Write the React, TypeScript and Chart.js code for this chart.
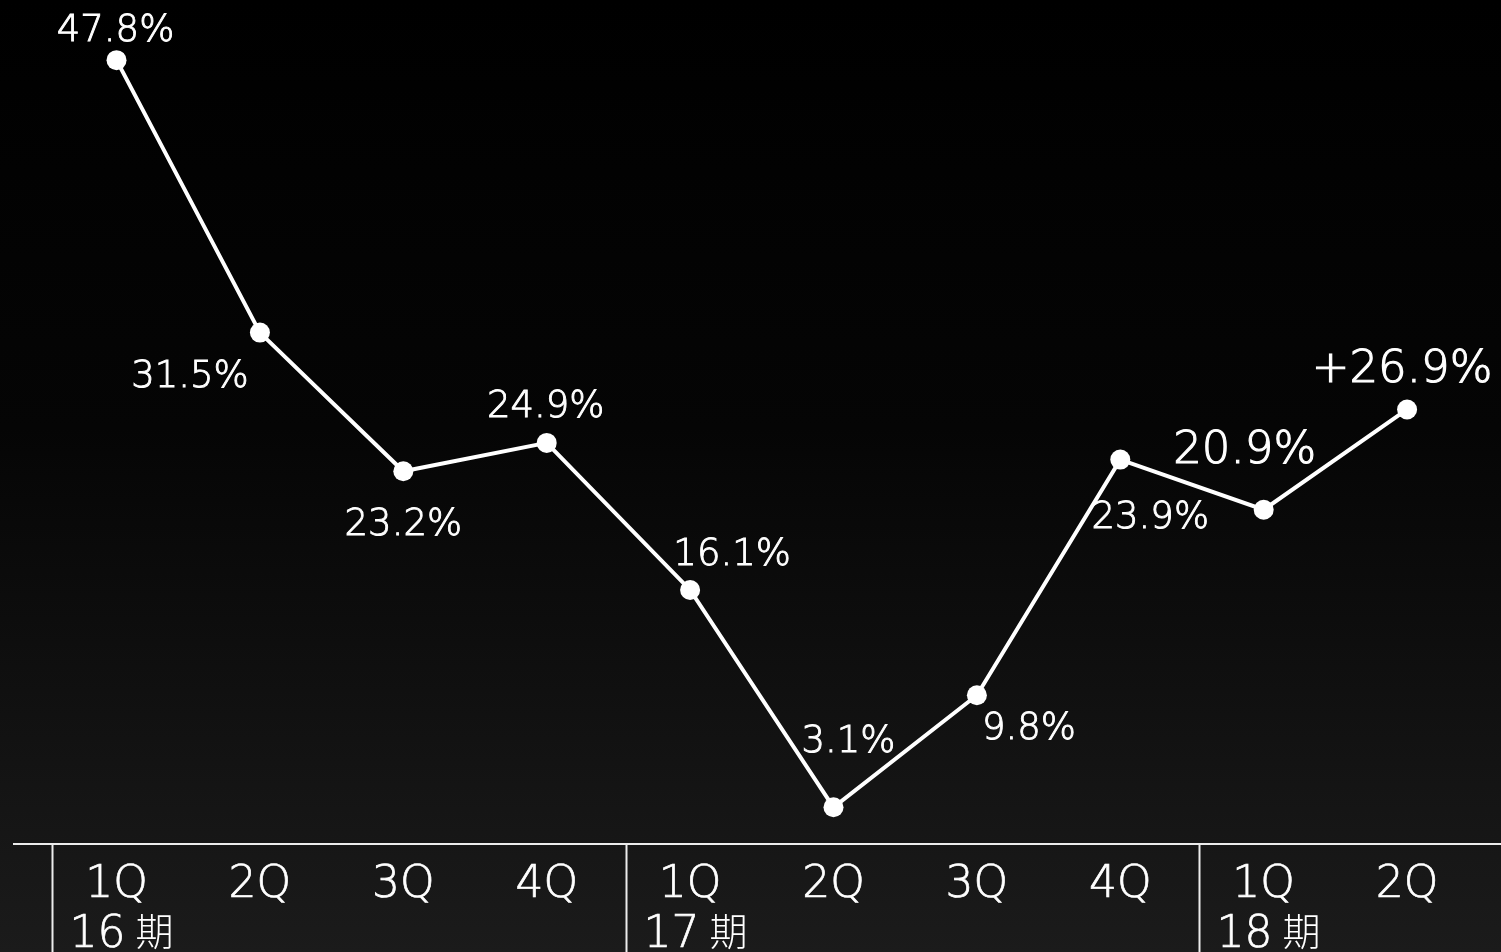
import { useEffect, useRef } from "react";
import { Chart, registerables } from "chart.js";

Chart.register(...registerables);

// Quarter ticks along the bottom axis
const quarters = ["1Q", "2Q", "3Q", "4Q", "1Q", "2Q", "3Q", "4Q", "1Q", "2Q"];
// Fiscal period groups and the quarter index each one starts at
const periods = ["16", "17", "18"];
const periodStart = [0, 4, 8];
const periodSuffix = "期";
// Year-on-year growth rate per quarter (%)
const growth = [47.8, 31.5, 23.2, 24.9, 16.1, 3.1, 9.8, 23.9, 20.9, 26.9];
// Latest quarters get a larger label
const emphasized = [8, 9];

// Label placement relative to each point: [dx, dy] to text centre / baseline
const labelOffsets: [number, number][] = [
  [-1, -19],
  [-70, 54],
  [0, 64],
  [-1, -26],
  [42, -25],
  [15, -55],
  [52, 44],
  [30, 68],
  [-19, -47],
  [-5, -27],
];

const W = 1501;
const H = 952;
const NUM_FONT = '"DejaVu Sans", "Noto Sans", sans-serif';
const CJK_FONT = '"Noto Sans CJK JP", sans-serif';
const WEIGHT = 200;

const formatLabel = (v: number, i: number) =>
  (i === growth.length - 1 ? "+" : "") + v.toFixed(1) + "%";

// thin face, slightly thickened with a hairline stroke
function drawText(ctx: CanvasRenderingContext2D, text: string, x: number, y: number, thick = 0.9) {
  ctx.fillText(text, x, y);
  ctx.lineWidth = thick;
  ctx.strokeStyle = "#ffffff";
  ctx.strokeText(text, x, y);
}

const valueLabels = {
  id: "valueLabels",
  afterDatasetsDraw(chart: Chart) {
    const ctx = chart.ctx;
    const meta = chart.getDatasetMeta(0);
    ctx.save();
    ctx.fillStyle = "#ffffff";
    ctx.textAlign = "center";
    ctx.textBaseline = "alphabetic";
    meta.data.forEach((pt: any, i: number) => {
      const big = emphasized.includes(i);
      ctx.font = `${WEIGHT} ${big ? 45 : 37}px ${NUM_FONT}`;
      const [dx, dy] = labelOffsets[i];
      drawText(ctx, formatLabel(growth[i], i), pt.x + dx, pt.y + dy, big ? 1.1 : 0.9);
    });
    ctx.restore();
  },
};

const periodAxis = {
  id: "periodAxis",
  afterDraw(chart: Chart) {
    const ctx = chart.ctx;
    const area = chart.chartArea;
    const xs = chart.scales.x;
    const base = area.bottom;
    ctx.save();
    // axis rule
    ctx.strokeStyle = "#ececec";
    ctx.lineWidth = 2;
    ctx.beginPath();
    ctx.moveTo(area.left, base);
    ctx.lineTo(W, base);
    ctx.stroke();

    // period separators and names
    periodStart.forEach((start, p) => {
      const sx = Math.round(xs.getPixelForValue(start - 0.45)) + 0.5;
      ctx.strokeStyle = "#ececec";
      ctx.lineWidth = 2;
      ctx.beginPath();
      ctx.moveTo(sx, base);
      ctx.lineTo(sx, H);
      ctx.stroke();

      ctx.fillStyle = "#ffffff";
      ctx.textAlign = "left";
      ctx.textBaseline = "alphabetic";
      ctx.font = `${WEIGHT} 44px ${NUM_FONT}`;
      const tx = sx + 17;
      drawText(ctx, periods[p], tx, base + 103, 0.7);
      const w = ctx.measureText(periods[p]).width;
      ctx.font = `300 38px ${CJK_FONT}`;
      ctx.fillText(periodSuffix, tx + w + 10, base + 101);
    });

    // quarter ticks
    ctx.fillStyle = "#ffffff";
    ctx.textAlign = "center";
    ctx.font = `${WEIGHT} 44px ${NUM_FONT}`;
    quarters.forEach((q, i) => {
      drawText(ctx, q, xs.getPixelForValue(i), base + 53, 0.7);
    });
    ctx.restore();
  },
};

export default function App() {
  const ref = useRef<HTMLCanvasElement | null>(null);

  useEffect(() => {
    if (!ref.current) return;
    const chart = new Chart(ref.current, {
      type: "line",
      data: {
        datasets: [
          {
            data: growth.map((v, i) => ({ x: i, y: v })),
            borderColor: "#ffffff",
            borderWidth: 4,
            pointRadius: 10,
            pointHoverRadius: 10,
            pointBackgroundColor: "#ffffff",
            pointBorderWidth: 0,
            tension: 0,
            clip: false as any,
          },
        ],
      },
      options: {
        animation: false,
        responsive: false,
        devicePixelRatio: 1,
        events: [],
        layout: { autoPadding: false, padding: { left: 13, right: 0, top: 0, bottom: 108 } },
        scales: {
          x: { type: "linear", min: -0.722, max: 9.655, display: false },
          y: { type: "linear", min: 0.9, max: 51.4, display: false },
        },
        plugins: {
          legend: { display: false },
          tooltip: { enabled: false },
        },
      },
      plugins: [valueLabels, periodAxis],
    });
    return () => chart.destroy();
  }, []);

  return (
    <div
      style={{
        position: "fixed",
        left: 0,
        top: 0,
        width: W,
        height: H,
        background: "linear-gradient(to bottom, #000000 0%, #050505 45%, #1b1b1b 100%)",
      }}
    >
      <canvas ref={ref} width={W} height={H} style={{ display: "block" }} />
    </div>
  );
}
